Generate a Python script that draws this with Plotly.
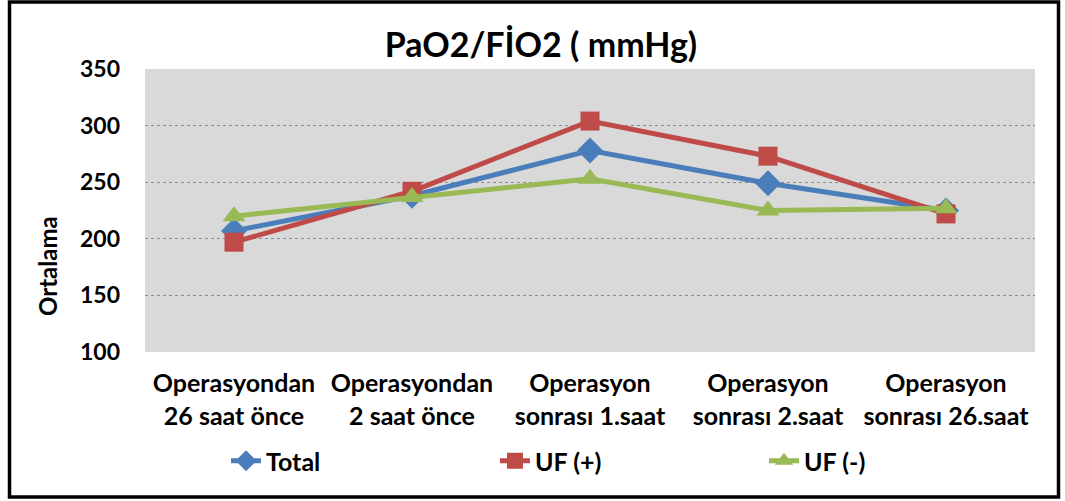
import plotly.graph_objects as go

categories = [
    "Operasyondan<br>26 saat önce",
    "Operasyondan<br>2 saat önce",
    "Operasyon<br>sonrası 1.saat",
    "Operasyon<br>sonrası 2.saat",
    "Operasyon<br>sonrası 26.saat",
]
total = [207, 238, 278, 249, 225]
uf_pos = [197, 242, 304, 273, 222]
uf_neg = [220, 237, 253, 225, 227]
y_ticks = [100, 150, 200, 250, 300, 350]

FONT = "Lato"
W, H = 1065, 501
# plot area in page pixels: x 145..1035, y 69..352
L, T = 145, 69
R = W - 1035
B = H - 352
PW = W - L - R
PH = H - T - B


def px_x(p):
    return (p - L) / PW


def px_y(p):
    return (H - B - p) / PH


fig = go.Figure()
series = [
    ("Total", total, "#4A7EBB", "diamond", 20),
    ("UF (+)", uf_pos, "#BE4B48", "square", 19),
    ("UF (-)", uf_neg, "#98B954", "triangle-up", 20),
]
for name, vals, col, sym, sz in series:
    fig.add_trace(go.Scatter(
        x=categories, y=vals, name=name, mode="lines+markers",
        line=dict(color=col, width=5),
        marker=dict(symbol=sym, size=sz, color=col),
    ))

fig.update_layout(
    width=W, height=H,
    margin=dict(l=L, r=R, t=T, b=B, autoexpand=False),
    paper_bgcolor="white",
    plot_bgcolor="#D9D9D9",
    font=dict(family=FONT, size=24, color="black", weight="bold"),
    title=dict(text="PaO2/FİO2 ( mmHg)", x=px_x(541), xref="paper", xanchor="center",
               y=1 - 45 / H, yanchor="middle", yref="container",
               font=dict(family=FONT, size=34, color="black", weight="bold")),
    showlegend=True,
    legend=dict(orientation="h", x=px_x(226), xanchor="left", y=px_y(461), yanchor="middle",
                entrywidth=224, entrywidthmode="pixels",
                font=dict(family=FONT, size=25, color="black", weight="bold"),
                bgcolor="rgba(0,0,0,0)"),
    xaxis=dict(type="category", range=[-0.5, 4.5], showgrid=False, zeroline=False,
               showline=False, ticks="", ticklabelstandoff=14,
               tickfont=dict(family=FONT, size=25, color="black", weight="bold")),
    yaxis=dict(range=[100, 350], tickvals=y_ticks, showgrid=True, gridcolor="#8C8C8C",
               griddash="dot", gridwidth=1, zeroline=False, showline=False, ticks="",
               ticklabelstandoff=24,
               tickfont=dict(family=FONT, size=23, color="black", weight="bold")),
    annotations=[dict(text="Ortalama", textangle=-90, x=px_x(47), y=px_y(266),
                      xref="paper", yref="paper", xanchor="center", yanchor="middle",
                      showarrow=False,
                      font=dict(family=FONT, size=24, color="black", weight="bold"))],
    shapes=[dict(type="rect", xref="paper", yref="paper",
                 x0=px_x(9.5), x1=px_x(1058.5), y0=px_y(497), y1=px_y(2),
                 line=dict(color="black", width=3.5), fillcolor="rgba(0,0,0,0)", layer="below")],
)

fig.write_html("out.html", config={"displayModeBar": False},
               post_script="document.body.style.margin='0';")
